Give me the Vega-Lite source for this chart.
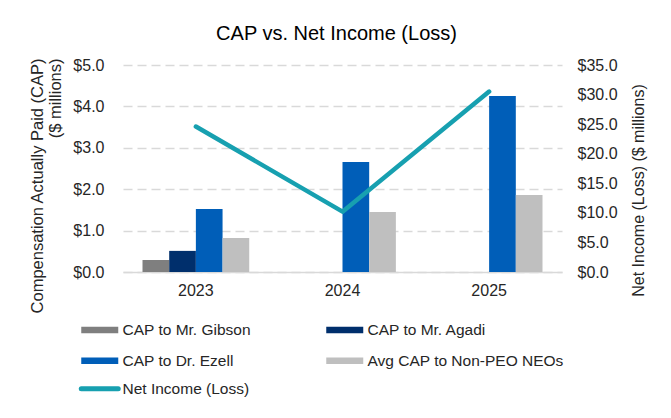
{
  "$schema": "https://vega.github.io/schema/vega-lite/v6.json",
  "width": 439,
  "height": 207,
  "autosize": {"type": "none"},
  "padding": {"left": 123, "top": 65, "right": 109, "bottom": 146},
  "background": "white",
  "title": {"text": "CAP vs. Net Income (Loss)", "fontSize": 20, "font": "Liberation Sans", "fontWeight": "normal", "color": "#000000", "offset": -3, "baseline": "alphabetic", "dx": -6},
  "datasets": {
    "bars": [
      {"year": "2023", "series": "CAP to Mr. Gibson", "cap": 0.29},
      {"year": "2023", "series": "CAP to Mr. Agadi", "cap": 0.51},
      {"year": "2023", "series": "CAP to Dr. Ezell", "cap": 1.52},
      {"year": "2023", "series": "Avg CAP to Non-PEO NEOs", "cap": 0.82},
      {"year": "2024", "series": "CAP to Dr. Ezell", "cap": 2.66},
      {"year": "2024", "series": "Avg CAP to Non-PEO NEOs", "cap": 1.45},
      {"year": "2025", "series": "CAP to Dr. Ezell", "cap": 4.25},
      {"year": "2025", "series": "Avg CAP to Non-PEO NEOs", "cap": 1.86}
    ],
    "net": [
      {"year": "2023", "series": "Net Income (Loss)", "net": 24.6},
      {"year": "2024", "series": "Net Income (Loss)", "net": 10.2},
      {"year": "2025", "series": "Net Income (Loss)", "net": 30.5}
    ]
  },
  "layer": [
    {
      "data": {"name": "bars"},
      "mark": {"type": "bar"},
      "encoding": {
        "x": {
          "field": "year", "type": "nominal",
          "scale": {"paddingInner": 0.272, "paddingOuter": 0.133},
          "axis": {"title": null, "labelAngle": 0, "labelFont": "Liberation Sans", "labelFontSize": 16, "labelColor": "#262626", "labelPadding": 10, "ticks": false, "tickSize": 0, "domainColor": "#d9d9d9", "domainWidth": 1.5, "grid": false}
        },
        "xOffset": {
          "field": "series", "type": "nominal",
          "scale": {"domain": ["CAP to Mr. Gibson", "CAP to Mr. Agadi", "CAP to Dr. Ezell", "Avg CAP to Non-PEO NEOs"], "paddingInner": 0, "paddingOuter": 0}
        },
        "y": {
          "field": "cap", "type": "quantitative",
          "scale": {"domain": [0, 5]},
          "axis": {
            "orient": "left", "values": [0, 1, 2, 3, 4, 5], "format": "$.1f",
            "grid": true, "gridDash": [9, 5], "gridColor": "#d9d9d9", "gridWidth": 1.5,
            "domain": false, "ticks": false, "tickSize": 0, "labelPadding": 19,
            "labelFont": "Liberation Sans", "labelFontSize": 16, "labelColor": "#262626",
            "title": ["Compensation  Actually  Paid (CAP)", "($ millions)"],
            "titleFont": "Liberation Sans", "titleFontSize": 16.5, "titleFontWeight": "normal", "titleColor": "#262626",
            "titleAngle": 270, "titleAlign": "right", "titleBaseline": "middle", "titleLineHeight": 18,
            "titleX": -86, "titleY": -7
          }
        },
        "color": {
          "field": "series", "type": "nominal",
          "scale": {
            "domain": ["CAP to Mr. Gibson", "CAP to Mr. Agadi", "CAP to Dr. Ezell", "Avg CAP to Non-PEO NEOs", "Net Income (Loss)"],
            "range": ["#7f7f7f", "#002f6c", "#005eb8", "#bfbfbf", "#17a0b0"]
          },
          "legend": {
            "title": null, "orient": "none", "legendX": -31, "legendY": 257, "columns": 2,
            "direction": "horizontal",
            "padding": 0, "columnPadding": 62, "rowPadding": 4,
            "symbolType": "stroke", "symbolSize": 1369, "symbolStrokeWidth": 6,
            "labelFont": "Liberation Sans", "labelFontSize": 15.5, "labelColor": "#262626", "labelOffset": 15, "labelLimit": 300,
            "encode": {
              "symbols": {
                "update": {
                  "shape": {"value": "stroke"},
                  "stroke": {"scale": "color", "field": "value"},
                  "fill": {"value": "transparent"},
                  "strokeWidth": {"signal": "datum.value === 'Net Income (Loss)' ? 5 : 6.5"},
                  "strokeCap": {"signal": "datum.value === 'Net Income (Loss)' ? 'round' : 'butt'"},
                  "opacity": {"value": 1}
                }
              }
            }
          }
        }
      }
    },
    {
      "data": {"name": "net"},
      "mark": {"type": "line", "strokeWidth": 4.5, "strokeCap": "round", "strokeJoin": "round"},
      "encoding": {
        "x": {"field": "year", "type": "nominal"},
        "y": {
          "field": "net", "type": "quantitative",
          "scale": {"domain": [0, 35]},
          "axis": {
            "orient": "right", "values": [0, 5, 10, 15, 20, 25, 30, 35], "format": "$.1f",
            "grid": false, "domain": false, "ticks": false, "tickSize": 0, "labelPadding": 15,
            "labelFont": "Liberation Sans", "labelFontSize": 16, "labelColor": "#262626",
            "title": "Net Income (Loss)  ($ millions)",
            "titleFont": "Liberation Sans", "titleFontSize": 16, "titleFontWeight": "normal", "titleColor": "#262626",
            "titleAngle": 270, "titleAlign": "center", "titleBaseline": "middle",
            "titleX": 76, "titleY": 125
          }
        },
        "color": {"field": "series", "type": "nominal"}
      }
    }
  ],
  "resolve": {"scale": {"y": "independent"}},
  "config": {"view": {"stroke": null}, "legend": {"symbolSize": 1369, "symbolType": "stroke"}}
}
